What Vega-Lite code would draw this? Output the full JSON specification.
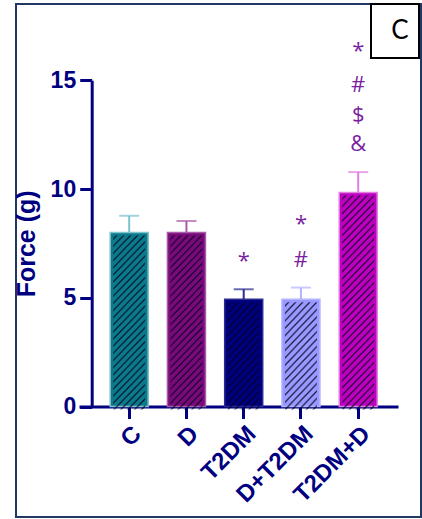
{
  "$schema": "https://vega.github.io/schema/vega-lite/v6.json",
  "width": 405,
  "height": 513,
  "autosize": "none",
  "padding": {"left": 16, "top": 4, "right": 1, "bottom": 2},
  "background": "white",
  "config": {
    "view": {"stroke": "#1f3864", "strokeWidth": 2},
    "axis": {
      "domainColor": "#000080", "domainWidth": 3,
      "tickColor": "#000080", "tickWidth": 3, "tickSize": 12,
      "labelColor": "#000080", "labelFont": "Liberation Sans", "labelFontWeight": "bold",
      "titleColor": "#000080", "titleFont": "Liberation Sans", "titleFontWeight": "bold",
      "grid": false, "zindex": 1
    },
    "text": {"font": "Open Sans", "fontSize": 22, "color": "#7b1fa2", "baseline": "bottom"}
  },
  "datasets": {
    "bars": [
      {"group": "C", "force": 8.0, "upper": 8.77},
      {"group": "D", "force": 8.0, "upper": 8.53},
      {"group": "T2DM", "force": 4.93, "upper": 5.39},
      {"group": "D+T2DM", "force": 4.93, "upper": 5.47},
      {"group": "T2DM+D", "force": 9.84, "upper": 10.78}
    ],
    "significance": [
      {"group": "T2DM", "sym": "*", "level": 0},
      {"group": "D+T2DM", "sym": "#", "level": 0},
      {"group": "D+T2DM", "sym": "*", "level": 1},
      {"group": "T2DM+D", "sym": "&", "level": 0},
      {"group": "T2DM+D", "sym": "$", "level": 1},
      {"group": "T2DM+D", "sym": "#", "level": 2},
      {"group": "T2DM+D", "sym": "*", "level": 3}
    ]
  },
  "layer": [
    {
      "encoding": {
        "x": {
          "field": "group", "type": "nominal", "sort": null,
          "scale": {"range": [63, 382], "paddingInner": 0.336, "paddingOuter": 0.454, "align": 0.6},
          "axis": {"title": null, "offset": -110.5, "labelAngle": -45, "labelFontSize": 24, "labelPadding": 3}
        },
        "y": {
          "field": "force", "type": "quantitative",
          "scale": {"domain": [0, 15], "range": [402.5, 76.3], "nice": false},
          "axis": {"title": "Force (g)", "offset": -75.7, "values": [0, 5, 10, 15], "labelFontSize": 23, "labelPadding": 4, "titleFontSize": 25, "titlePadding": 11}
        }
      },
      "layer": [
        {
          "data": {"name": "bars"},
          "layer": [
            {
              "mark": {"type": "rule", "strokeWidth": 2},
              "encoding": {
                "y2": {"field": "upper"},
                "stroke": {"field": "group", "type": "nominal", "sort": null, "legend": null,
                  "scale": {"domain": ["C", "D", "T2DM", "D+T2DM", "T2DM+D"], "range": ["#7ec2cc", "#a85ca8", "#2a2a90", "#b4b4ff", "#e07fe0"]}}
              }
            },
            {
              "mark": {"type": "tick", "thickness": 2, "size": 20},
              "encoding": {
                "y": {"field": "upper", "type": "quantitative"},
                "color": {"field": "group", "type": "nominal", "sort": null, "legend": null,
                  "scale": {"domain": ["C", "D", "T2DM", "D+T2DM", "T2DM+D"], "range": ["#7ec2cc", "#a85ca8", "#2a2a90", "#b4b4ff", "#e07fe0"]}}
              }
            },
            {
              "mark": {"type": "bar", "strokeWidth": 1.5},
              "encoding": {
                "fill": {"field": "group", "type": "nominal", "sort": null, "legend": null,
                  "scale": {"domain": ["C", "D", "T2DM", "D+T2DM", "T2DM+D"], "range": ["#0b7b8b", "#7a0a7a", "#00007e", "#9999ff", "#c000c0"]}},
                "stroke": {"field": "group", "type": "nominal", "sort": null, "legend": null}
              }
            },
            {
              "transform": [{"filter": {"field": "group", "oneOf": ["C", "D"]}}],
              "mark": {
                "type": "bar", "width": {"band": 0.84}, "yOffset": 3, "y2Offset": -2,
                "fill": {
                  "gradient": "linear", "x1": 0, "y1": 0, "x2": 0.2174, "y2": 1.1482,
                  "stops": [
                    {"offset": 0.0086, "color": "rgba(0,0,30,0)"}, {"offset": 0.0172, "color": "rgba(0,0,30,0.8)"}, {"offset": 0.0259, "color": "rgba(0,0,30,0)"},
                    {"offset": 0.0431, "color": "rgba(0,0,30,0)"}, {"offset": 0.0517, "color": "rgba(0,0,30,0.8)"}, {"offset": 0.0603, "color": "rgba(0,0,30,0)"},
                    {"offset": 0.0776, "color": "rgba(0,0,30,0)"}, {"offset": 0.0862, "color": "rgba(0,0,30,0.8)"}, {"offset": 0.0948, "color": "rgba(0,0,30,0)"},
                    {"offset": 0.1121, "color": "rgba(0,0,30,0)"}, {"offset": 0.1207, "color": "rgba(0,0,30,0.8)"}, {"offset": 0.1293, "color": "rgba(0,0,30,0)"},
                    {"offset": 0.1466, "color": "rgba(0,0,30,0)"}, {"offset": 0.1552, "color": "rgba(0,0,30,0.8)"}, {"offset": 0.1638, "color": "rgba(0,0,30,0)"},
                    {"offset": 0.1810, "color": "rgba(0,0,30,0)"}, {"offset": 0.1897, "color": "rgba(0,0,30,0.8)"}, {"offset": 0.1983, "color": "rgba(0,0,30,0)"},
                    {"offset": 0.2155, "color": "rgba(0,0,30,0)"}, {"offset": 0.2241, "color": "rgba(0,0,30,0.8)"}, {"offset": 0.2328, "color": "rgba(0,0,30,0)"},
                    {"offset": 0.2500, "color": "rgba(0,0,30,0)"}, {"offset": 0.2586, "color": "rgba(0,0,30,0.8)"}, {"offset": 0.2672, "color": "rgba(0,0,30,0)"},
                    {"offset": 0.2845, "color": "rgba(0,0,30,0)"}, {"offset": 0.2931, "color": "rgba(0,0,30,0.8)"}, {"offset": 0.3017, "color": "rgba(0,0,30,0)"},
                    {"offset": 0.3190, "color": "rgba(0,0,30,0)"}, {"offset": 0.3276, "color": "rgba(0,0,30,0.8)"}, {"offset": 0.3362, "color": "rgba(0,0,30,0)"},
                    {"offset": 0.3534, "color": "rgba(0,0,30,0)"}, {"offset": 0.3621, "color": "rgba(0,0,30,0.8)"}, {"offset": 0.3707, "color": "rgba(0,0,30,0)"},
                    {"offset": 0.3879, "color": "rgba(0,0,30,0)"}, {"offset": 0.3966, "color": "rgba(0,0,30,0.8)"}, {"offset": 0.4052, "color": "rgba(0,0,30,0)"},
                    {"offset": 0.4224, "color": "rgba(0,0,30,0)"}, {"offset": 0.4310, "color": "rgba(0,0,30,0.8)"}, {"offset": 0.4397, "color": "rgba(0,0,30,0)"},
                    {"offset": 0.4569, "color": "rgba(0,0,30,0)"}, {"offset": 0.4655, "color": "rgba(0,0,30,0.8)"}, {"offset": 0.4741, "color": "rgba(0,0,30,0)"},
                    {"offset": 0.4914, "color": "rgba(0,0,30,0)"}, {"offset": 0.5000, "color": "rgba(0,0,30,0.8)"}, {"offset": 0.5086, "color": "rgba(0,0,30,0)"},
                    {"offset": 0.5259, "color": "rgba(0,0,30,0)"}, {"offset": 0.5345, "color": "rgba(0,0,30,0.8)"}, {"offset": 0.5431, "color": "rgba(0,0,30,0)"},
                    {"offset": 0.5603, "color": "rgba(0,0,30,0)"}, {"offset": 0.5690, "color": "rgba(0,0,30,0.8)"}, {"offset": 0.5776, "color": "rgba(0,0,30,0)"},
                    {"offset": 0.5948, "color": "rgba(0,0,30,0)"}, {"offset": 0.6034, "color": "rgba(0,0,30,0.8)"}, {"offset": 0.6121, "color": "rgba(0,0,30,0)"},
                    {"offset": 0.6293, "color": "rgba(0,0,30,0)"}, {"offset": 0.6379, "color": "rgba(0,0,30,0.8)"}, {"offset": 0.6466, "color": "rgba(0,0,30,0)"},
                    {"offset": 0.6638, "color": "rgba(0,0,30,0)"}, {"offset": 0.6724, "color": "rgba(0,0,30,0.8)"}, {"offset": 0.6810, "color": "rgba(0,0,30,0)"},
                    {"offset": 0.6983, "color": "rgba(0,0,30,0)"}, {"offset": 0.7069, "color": "rgba(0,0,30,0.8)"}, {"offset": 0.7155, "color": "rgba(0,0,30,0)"},
                    {"offset": 0.7328, "color": "rgba(0,0,30,0)"}, {"offset": 0.7414, "color": "rgba(0,0,30,0.8)"}, {"offset": 0.7500, "color": "rgba(0,0,30,0)"},
                    {"offset": 0.7672, "color": "rgba(0,0,30,0)"}, {"offset": 0.7759, "color": "rgba(0,0,30,0.8)"}, {"offset": 0.7845, "color": "rgba(0,0,30,0)"},
                    {"offset": 0.8017, "color": "rgba(0,0,30,0)"}, {"offset": 0.8103, "color": "rgba(0,0,30,0.8)"}, {"offset": 0.8190, "color": "rgba(0,0,30,0)"},
                    {"offset": 0.8362, "color": "rgba(0,0,30,0)"}, {"offset": 0.8448, "color": "rgba(0,0,30,0.8)"}, {"offset": 0.8534, "color": "rgba(0,0,30,0)"},
                    {"offset": 0.8707, "color": "rgba(0,0,30,0)"}, {"offset": 0.8793, "color": "rgba(0,0,30,0.8)"}, {"offset": 0.8879, "color": "rgba(0,0,30,0)"},
                    {"offset": 0.9052, "color": "rgba(0,0,30,0)"}, {"offset": 0.9138, "color": "rgba(0,0,30,0.8)"}, {"offset": 0.9224, "color": "rgba(0,0,30,0)"},
                    {"offset": 0.9397, "color": "rgba(0,0,30,0)"}, {"offset": 0.9483, "color": "rgba(0,0,30,0.8)"}, {"offset": 0.9569, "color": "rgba(0,0,30,0)"},
                    {"offset": 0.9741, "color": "rgba(0,0,30,0)"}, {"offset": 0.9828, "color": "rgba(0,0,30,0.8)"}, {"offset": 0.9914, "color": "rgba(0,0,30,0)"}
                  ]
                }
              },
              "encoding": {}
            },
            {
              "transform": [{"filter": {"field": "group", "oneOf": ["T2DM", "D+T2DM"]}}],
              "mark": {
                "type": "bar", "width": {"band": 0.84}, "yOffset": 3, "y2Offset": -2,
                "fill": {
                  "gradient": "linear", "x1": 0, "y1": 0, "x2": 0.3752, "y2": 1.1960,
                  "stops": [
                    {"offset": 0.0132, "color": "rgba(0,0,30,0)"}, {"offset": 0.0263, "color": "rgba(0,0,30,0.8)"}, {"offset": 0.0395, "color": "rgba(0,0,30,0)"},
                    {"offset": 0.0658, "color": "rgba(0,0,30,0)"}, {"offset": 0.0789, "color": "rgba(0,0,30,0.8)"}, {"offset": 0.0921, "color": "rgba(0,0,30,0)"},
                    {"offset": 0.1184, "color": "rgba(0,0,30,0)"}, {"offset": 0.1316, "color": "rgba(0,0,30,0.8)"}, {"offset": 0.1447, "color": "rgba(0,0,30,0)"},
                    {"offset": 0.1711, "color": "rgba(0,0,30,0)"}, {"offset": 0.1842, "color": "rgba(0,0,30,0.8)"}, {"offset": 0.1974, "color": "rgba(0,0,30,0)"},
                    {"offset": 0.2237, "color": "rgba(0,0,30,0)"}, {"offset": 0.2368, "color": "rgba(0,0,30,0.8)"}, {"offset": 0.2500, "color": "rgba(0,0,30,0)"},
                    {"offset": 0.2763, "color": "rgba(0,0,30,0)"}, {"offset": 0.2895, "color": "rgba(0,0,30,0.8)"}, {"offset": 0.3026, "color": "rgba(0,0,30,0)"},
                    {"offset": 0.3289, "color": "rgba(0,0,30,0)"}, {"offset": 0.3421, "color": "rgba(0,0,30,0.8)"}, {"offset": 0.3553, "color": "rgba(0,0,30,0)"},
                    {"offset": 0.3816, "color": "rgba(0,0,30,0)"}, {"offset": 0.3947, "color": "rgba(0,0,30,0.8)"}, {"offset": 0.4079, "color": "rgba(0,0,30,0)"},
                    {"offset": 0.4342, "color": "rgba(0,0,30,0)"}, {"offset": 0.4474, "color": "rgba(0,0,30,0.8)"}, {"offset": 0.4605, "color": "rgba(0,0,30,0)"},
                    {"offset": 0.4868, "color": "rgba(0,0,30,0)"}, {"offset": 0.5000, "color": "rgba(0,0,30,0.8)"}, {"offset": 0.5132, "color": "rgba(0,0,30,0)"},
                    {"offset": 0.5395, "color": "rgba(0,0,30,0)"}, {"offset": 0.5526, "color": "rgba(0,0,30,0.8)"}, {"offset": 0.5658, "color": "rgba(0,0,30,0)"},
                    {"offset": 0.5921, "color": "rgba(0,0,30,0)"}, {"offset": 0.6053, "color": "rgba(0,0,30,0.8)"}, {"offset": 0.6184, "color": "rgba(0,0,30,0)"},
                    {"offset": 0.6447, "color": "rgba(0,0,30,0)"}, {"offset": 0.6579, "color": "rgba(0,0,30,0.8)"}, {"offset": 0.6711, "color": "rgba(0,0,30,0)"},
                    {"offset": 0.6974, "color": "rgba(0,0,30,0)"}, {"offset": 0.7105, "color": "rgba(0,0,30,0.8)"}, {"offset": 0.7237, "color": "rgba(0,0,30,0)"},
                    {"offset": 0.7500, "color": "rgba(0,0,30,0)"}, {"offset": 0.7632, "color": "rgba(0,0,30,0.8)"}, {"offset": 0.7763, "color": "rgba(0,0,30,0)"},
                    {"offset": 0.8026, "color": "rgba(0,0,30,0)"}, {"offset": 0.8158, "color": "rgba(0,0,30,0.8)"}, {"offset": 0.8289, "color": "rgba(0,0,30,0)"},
                    {"offset": 0.8553, "color": "rgba(0,0,30,0)"}, {"offset": 0.8684, "color": "rgba(0,0,30,0.8)"}, {"offset": 0.8816, "color": "rgba(0,0,30,0)"},
                    {"offset": 0.9079, "color": "rgba(0,0,30,0)"}, {"offset": 0.9211, "color": "rgba(0,0,30,0.8)"}, {"offset": 0.9342, "color": "rgba(0,0,30,0)"},
                    {"offset": 0.9605, "color": "rgba(0,0,30,0)"}, {"offset": 0.9737, "color": "rgba(0,0,30,0.8)"}, {"offset": 0.9868, "color": "rgba(0,0,30,0)"}
                  ]
                }
              },
              "encoding": {}
            },
            {
              "transform": [{"filter": {"field": "group", "equal": "T2DM+D"}}],
              "mark": {
                "type": "bar", "width": {"band": 0.84}, "yOffset": 3, "y2Offset": -2,
                "fill": {
                  "gradient": "linear", "x1": 0, "y1": 0, "x2": 0.1725, "y2": 1.1267,
                  "stops": [
                    {"offset": 0.0074, "color": "rgba(0,0,30,0)"}, {"offset": 0.0147, "color": "rgba(0,0,30,0.8)"}, {"offset": 0.0221, "color": "rgba(0,0,30,0)"},
                    {"offset": 0.0368, "color": "rgba(0,0,30,0)"}, {"offset": 0.0441, "color": "rgba(0,0,30,0.8)"}, {"offset": 0.0515, "color": "rgba(0,0,30,0)"},
                    {"offset": 0.0662, "color": "rgba(0,0,30,0)"}, {"offset": 0.0735, "color": "rgba(0,0,30,0.8)"}, {"offset": 0.0809, "color": "rgba(0,0,30,0)"},
                    {"offset": 0.0956, "color": "rgba(0,0,30,0)"}, {"offset": 0.1029, "color": "rgba(0,0,30,0.8)"}, {"offset": 0.1103, "color": "rgba(0,0,30,0)"},
                    {"offset": 0.1250, "color": "rgba(0,0,30,0)"}, {"offset": 0.1324, "color": "rgba(0,0,30,0.8)"}, {"offset": 0.1397, "color": "rgba(0,0,30,0)"},
                    {"offset": 0.1544, "color": "rgba(0,0,30,0)"}, {"offset": 0.1618, "color": "rgba(0,0,30,0.8)"}, {"offset": 0.1691, "color": "rgba(0,0,30,0)"},
                    {"offset": 0.1838, "color": "rgba(0,0,30,0)"}, {"offset": 0.1912, "color": "rgba(0,0,30,0.8)"}, {"offset": 0.1985, "color": "rgba(0,0,30,0)"},
                    {"offset": 0.2132, "color": "rgba(0,0,30,0)"}, {"offset": 0.2206, "color": "rgba(0,0,30,0.8)"}, {"offset": 0.2279, "color": "rgba(0,0,30,0)"},
                    {"offset": 0.2426, "color": "rgba(0,0,30,0)"}, {"offset": 0.2500, "color": "rgba(0,0,30,0.8)"}, {"offset": 0.2574, "color": "rgba(0,0,30,0)"},
                    {"offset": 0.2721, "color": "rgba(0,0,30,0)"}, {"offset": 0.2794, "color": "rgba(0,0,30,0.8)"}, {"offset": 0.2868, "color": "rgba(0,0,30,0)"},
                    {"offset": 0.3015, "color": "rgba(0,0,30,0)"}, {"offset": 0.3088, "color": "rgba(0,0,30,0.8)"}, {"offset": 0.3162, "color": "rgba(0,0,30,0)"},
                    {"offset": 0.3309, "color": "rgba(0,0,30,0)"}, {"offset": 0.3382, "color": "rgba(0,0,30,0.8)"}, {"offset": 0.3456, "color": "rgba(0,0,30,0)"},
                    {"offset": 0.3603, "color": "rgba(0,0,30,0)"}, {"offset": 0.3676, "color": "rgba(0,0,30,0.8)"}, {"offset": 0.3750, "color": "rgba(0,0,30,0)"},
                    {"offset": 0.3897, "color": "rgba(0,0,30,0)"}, {"offset": 0.3971, "color": "rgba(0,0,30,0.8)"}, {"offset": 0.4044, "color": "rgba(0,0,30,0)"},
                    {"offset": 0.4191, "color": "rgba(0,0,30,0)"}, {"offset": 0.4265, "color": "rgba(0,0,30,0.8)"}, {"offset": 0.4338, "color": "rgba(0,0,30,0)"},
                    {"offset": 0.4485, "color": "rgba(0,0,30,0)"}, {"offset": 0.4559, "color": "rgba(0,0,30,0.8)"}, {"offset": 0.4632, "color": "rgba(0,0,30,0)"},
                    {"offset": 0.4779, "color": "rgba(0,0,30,0)"}, {"offset": 0.4853, "color": "rgba(0,0,30,0.8)"}, {"offset": 0.4926, "color": "rgba(0,0,30,0)"},
                    {"offset": 0.5074, "color": "rgba(0,0,30,0)"}, {"offset": 0.5147, "color": "rgba(0,0,30,0.8)"}, {"offset": 0.5221, "color": "rgba(0,0,30,0)"},
                    {"offset": 0.5368, "color": "rgba(0,0,30,0)"}, {"offset": 0.5441, "color": "rgba(0,0,30,0.8)"}, {"offset": 0.5515, "color": "rgba(0,0,30,0)"},
                    {"offset": 0.5662, "color": "rgba(0,0,30,0)"}, {"offset": 0.5735, "color": "rgba(0,0,30,0.8)"}, {"offset": 0.5809, "color": "rgba(0,0,30,0)"},
                    {"offset": 0.5956, "color": "rgba(0,0,30,0)"}, {"offset": 0.6029, "color": "rgba(0,0,30,0.8)"}, {"offset": 0.6103, "color": "rgba(0,0,30,0)"},
                    {"offset": 0.6250, "color": "rgba(0,0,30,0)"}, {"offset": 0.6324, "color": "rgba(0,0,30,0.8)"}, {"offset": 0.6397, "color": "rgba(0,0,30,0)"},
                    {"offset": 0.6544, "color": "rgba(0,0,30,0)"}, {"offset": 0.6618, "color": "rgba(0,0,30,0.8)"}, {"offset": 0.6691, "color": "rgba(0,0,30,0)"},
                    {"offset": 0.6838, "color": "rgba(0,0,30,0)"}, {"offset": 0.6912, "color": "rgba(0,0,30,0.8)"}, {"offset": 0.6985, "color": "rgba(0,0,30,0)"},
                    {"offset": 0.7132, "color": "rgba(0,0,30,0)"}, {"offset": 0.7206, "color": "rgba(0,0,30,0.8)"}, {"offset": 0.7279, "color": "rgba(0,0,30,0)"},
                    {"offset": 0.7426, "color": "rgba(0,0,30,0)"}, {"offset": 0.7500, "color": "rgba(0,0,30,0.8)"}, {"offset": 0.7574, "color": "rgba(0,0,30,0)"},
                    {"offset": 0.7721, "color": "rgba(0,0,30,0)"}, {"offset": 0.7794, "color": "rgba(0,0,30,0.8)"}, {"offset": 0.7868, "color": "rgba(0,0,30,0)"},
                    {"offset": 0.8015, "color": "rgba(0,0,30,0)"}, {"offset": 0.8088, "color": "rgba(0,0,30,0.8)"}, {"offset": 0.8162, "color": "rgba(0,0,30,0)"},
                    {"offset": 0.8309, "color": "rgba(0,0,30,0)"}, {"offset": 0.8382, "color": "rgba(0,0,30,0.8)"}, {"offset": 0.8456, "color": "rgba(0,0,30,0)"},
                    {"offset": 0.8603, "color": "rgba(0,0,30,0)"}, {"offset": 0.8676, "color": "rgba(0,0,30,0.8)"}, {"offset": 0.8750, "color": "rgba(0,0,30,0)"},
                    {"offset": 0.8897, "color": "rgba(0,0,30,0)"}, {"offset": 0.8971, "color": "rgba(0,0,30,0.8)"}, {"offset": 0.9044, "color": "rgba(0,0,30,0)"},
                    {"offset": 0.9191, "color": "rgba(0,0,30,0)"}, {"offset": 0.9265, "color": "rgba(0,0,30,0.8)"}, {"offset": 0.9338, "color": "rgba(0,0,30,0)"},
                    {"offset": 0.9485, "color": "rgba(0,0,30,0)"}, {"offset": 0.9559, "color": "rgba(0,0,30,0.8)"}, {"offset": 0.9632, "color": "rgba(0,0,30,0)"},
                    {"offset": 0.9779, "color": "rgba(0,0,30,0)"}, {"offset": 0.9853, "color": "rgba(0,0,30,0.8)"}, {"offset": 0.9926, "color": "rgba(0,0,30,0)"}
                  ]
                }
              },
              "encoding": {}
            }
          ]
        },
        {
          "data": {"name": "significance"},
          "transform": [{"lookup": "group", "from": {"data": {"name": "bars"}, "key": "group", "fields": ["upper"]}}],
          "encoding": {
            "y": {"field": "upper", "type": "quantitative"},
            "text": {"field": "sym"}
          },
          "layer": [
            {"transform": [{"filter": "datum.level == 0"}], "mark": {"type": "text", "dy": -16}},
            {"transform": [{"filter": "datum.level == 1 && datum.sym == '*'"}], "mark": {"type": "text", "dy": -52}},
            {"transform": [{"filter": "datum.level == 1 && datum.sym != '*'"}], "mark": {"type": "text", "dy": -45}},
            {"transform": [{"filter": "datum.level == 2"}], "mark": {"type": "text", "dy": -75}},
            {"transform": [{"filter": "datum.level == 3"}], "mark": {"type": "text", "dy": -109}}
          ]
        }
      ]
    },
    {
      "data": {"values": [{"panel": "C"}]},
      "layer": [
        {
          "mark": {"type": "rect", "x": {"expr": "width - 50"}, "x2": {"expr": "width - 2"}, "y": 0, "y2": 54, "fill": "white", "stroke": "black", "strokeWidth": 2},
          "encoding": {}
        },
        {
          "mark": {"type": "text", "x": {"expr": "width - 21"}, "y": 27, "align": "center", "baseline": "middle", "font": "Lato", "fontSize": 26, "color": "black"},
          "encoding": {"text": {"field": "panel"}}
        }
      ]
    }
  ]
}
